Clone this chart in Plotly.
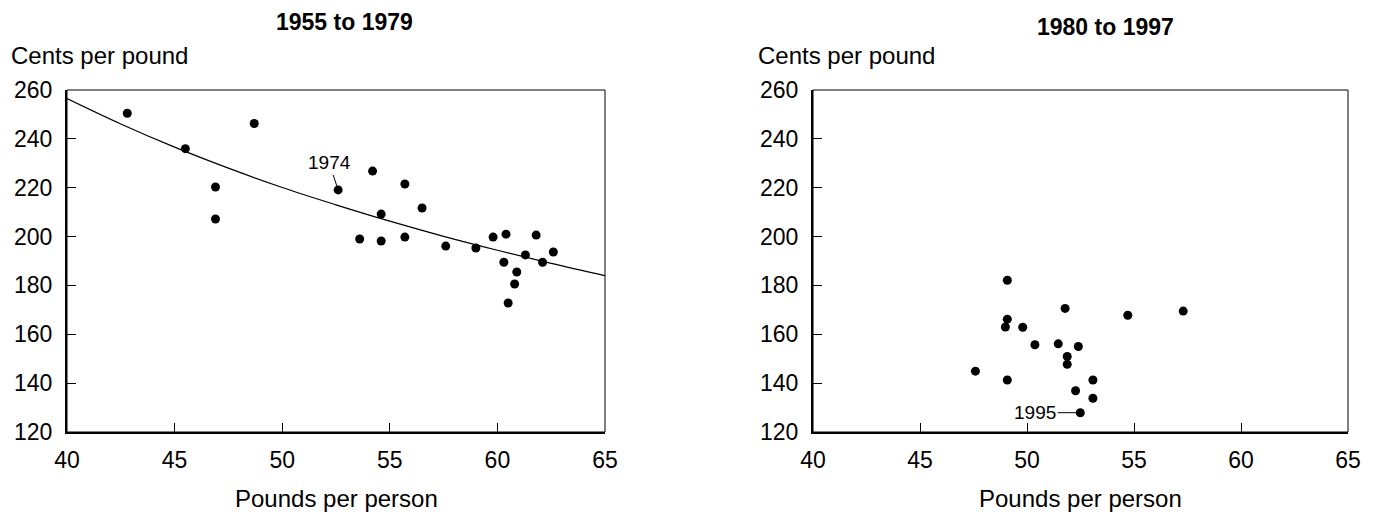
import plotly.graph_objects as go

# ---- data ----
left_x = [42.8, 45.5, 46.9, 46.9, 48.7, 52.6, 53.6, 54.2, 54.6, 54.6, 55.7, 55.7, 56.5,
          57.6, 59.0, 59.8, 60.4, 60.3, 60.5, 60.8, 60.9, 61.3, 61.8, 62.1, 62.6]
left_y = [250.5, 236.0, 220.3, 207.2, 246.3, 219.1, 199.0, 226.8, 209.2, 198.2, 221.5, 199.8, 211.7,
          196.1, 195.3, 199.8, 201.0, 189.5, 172.8, 180.6, 185.5, 192.5, 200.6, 189.5, 193.7]

trend_x = [40, 42.5, 45, 47.5, 50, 52.5, 55, 57.5, 60, 62.5, 65]
trend_y = [256.5, 246.1, 236.6, 228.0, 220.1, 213.0, 206.3, 200.1, 194.4, 189.0, 184.0]

right_x = [49.08, 51.78, 54.71, 57.30, 49.08, 48.99, 49.80, 50.37, 51.46, 52.40, 51.88, 51.88,
           47.59, 49.08, 53.08, 52.27, 53.08, 52.49]
right_y = [182.1, 170.6, 167.8, 169.5, 166.2, 163.0, 162.9, 155.7, 156.1, 155.0, 150.9, 147.7,
           144.9, 141.3, 141.3, 136.9, 133.8, 127.9]

x_ticks = [40, 45, 50, 55, 60, 65]
y_ticks = [120, 140, 160, 180, 200, 220, 240, 260]

titles = ["1955 to 1979", "1980 to 1997"]
y_title = "Cents per pound"
x_title = "Pounds per person"

# page has an 8px body margin; figure sized to fit the window
OFF = 8
W, H = 1376 - OFF, 514 - OFF
FONT = "Liberation Sans, Arial, Helvetica, sans-serif"


def px_x(p):
    return (p - OFF) / W


def px_y(p):
    return 1 - (p - OFF) / H


fig = go.Figure()
fig.add_trace(go.Scatter(x=trend_x, y=trend_y, mode="lines", line=dict(color="black", width=1.2, shape="spline"),
                         xaxis="x", yaxis="y", hoverinfo="skip"))
fig.add_trace(go.Scatter(x=left_x, y=left_y, mode="markers", marker=dict(color="black", size=9),
                         xaxis="x", yaxis="y"))
fig.add_trace(go.Scatter(x=right_x, y=right_y, mode="markers", marker=dict(color="black", size=9),
                         xaxis="x2", yaxis="y2"))

xdoms = [[px_x(67), px_x(605)], [px_x(813), px_x(1348)]]
ydom = [px_y(432), px_y(90)]

common_x = dict(range=[40, 65], tickvals=x_ticks, ticks="inside", ticklen=9, tickcolor="black", tickwidth=1,
                showline=True, linecolor="black", linewidth=2, showgrid=False, zeroline=False, automargin=False,
                tickfont=dict(family=FONT, size=23, color="black"), ticklabelstandoff=6)
common_y = dict(range=[120, 260], tickvals=y_ticks, ticks="inside", ticklen=9, tickcolor="black", tickwidth=1,
                showline=True, linecolor="black", linewidth=2, showgrid=False, zeroline=False, automargin=False,
                tickfont=dict(family=FONT, size=23, color="black"), ticklabelstandoff=8)

fig.update_layout(
    width=W, height=H, margin=dict(l=0, r=0, t=0, b=0, autoexpand=False),
    paper_bgcolor="white", plot_bgcolor="white", showlegend=False,
    xaxis=dict(domain=xdoms[0], anchor="y", **common_x),
    yaxis=dict(domain=ydom, anchor="x", **common_y),
    xaxis2=dict(domain=xdoms[1], anchor="y2", **common_x),
    yaxis2=dict(domain=ydom, anchor="x2", **common_y),
)

# frames (top/right thin lines)
for xr, yr in [("x domain", "y domain"), ("x2 domain", "y2 domain")]:
    fig.add_shape(type="rect", xref=xr, yref=yr, x0=0, x1=1, y0=0, y1=1,
                  line=dict(color="black", width=1), layer="above")

ann = []
# panel titles
ann.append(dict(text="<b>" + titles[0] + "</b>", x=px_x(344), y=px_y(8), xref="paper", yref="paper",
                xanchor="center", yanchor="top", showarrow=False, borderpad=0,
                font=dict(family=FONT, size=23, color="black")))
ann.append(dict(text="<b>" + titles[1] + "</b>", x=px_x(1105), y=px_y(27), xref="paper", yref="paper",
                xanchor="center", yanchor="middle", showarrow=False, font=dict(family=FONT, size=23, color="black")))
# y titles
for xl in [9, 756]:
    ann.append(dict(text=y_title, x=px_x(xl), y=px_y(55), xref="paper", yref="paper",
                    xanchor="left", yanchor="middle", showarrow=False, font=dict(family=FONT, size=24, color="black")))
# x titles
for xc in [336, 1080]:
    ann.append(dict(text=x_title, x=px_x(xc), y=px_y(498), xref="paper", yref="paper",
                    xanchor="center", yanchor="middle", showarrow=False, font=dict(family=FONT, size=24, color="black")))
# point labels
ann.append(dict(text="1974", x=left_x[5], y=left_y[5], xref="x", yref="y", showarrow=True,
                arrowhead=0, arrowwidth=1, arrowcolor="black", ax=-9, ay=-27, standoff=4,
                font=dict(family=FONT, size=19, color="black")))
ann.append(dict(text="1995", x=right_x[17], y=right_y[17], xref="x2", yref="y2", showarrow=True,
                arrowhead=0, arrowwidth=1, arrowcolor="black", ax=-45, ay=0, standoff=4,
                font=dict(family=FONT, size=19, color="black")))
fig.update_layout(annotations=ann)

fig.write_html("out.html")
